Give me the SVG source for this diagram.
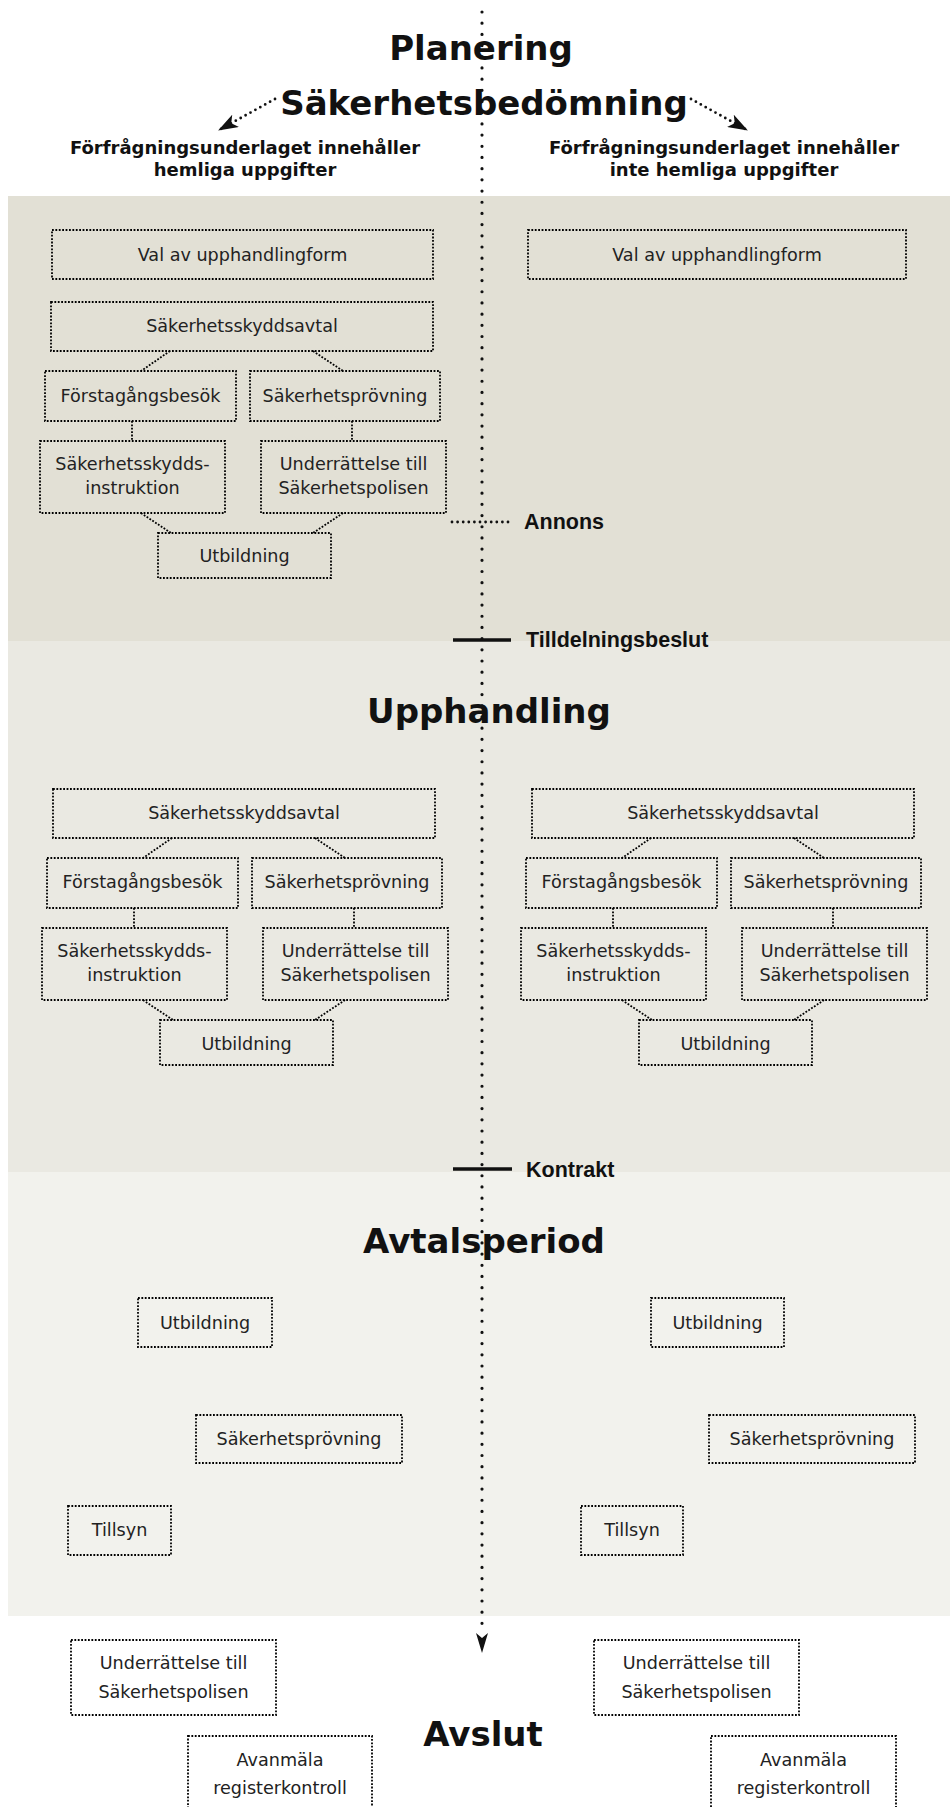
<svg xmlns="http://www.w3.org/2000/svg" width="950" height="1807" viewBox="0 0 950 1807">
<style>
.box{fill:none;stroke:#000;stroke-width:1.8;stroke-dasharray:1.8 1.6}
.con{fill:none;stroke:#000;stroke-width:1.8;stroke-dasharray:1.8 1.6}
.t{font-family:"DejaVu Sans",sans-serif;font-size:17.6px;fill:#222;text-anchor:middle}
.title{font-family:"DejaVu Sans",sans-serif;font-weight:bold;font-size:34px;fill:#111;text-anchor:middle}
.sub{font-family:"DejaVu Sans",sans-serif;font-weight:bold;font-size:18px;fill:#111;text-anchor:middle}
.lbl{font-family:"Liberation Sans",Arial,sans-serif;font-weight:bold;font-size:21.5px;fill:#111}
.dotsm{fill:none;stroke:#111;stroke-width:2.8;stroke-linecap:round;stroke-dasharray:0 5.6}
.mark{fill:none;stroke:#111;stroke-width:3.5}
</style>
<defs>
<marker id="ah" viewBox="0 0 20 14" refX="19" refY="7" markerWidth="20" markerHeight="14" markerUnits="userSpaceOnUse" orient="auto">
<path d="M0,0 L20,7 L0,14 L5,7 z" fill="#111"/>
</marker>
</defs>
<rect x="0" y="0" width="950" height="1807" fill="#fff"/>
<g id="panels">
<rect x="8" y="196" width="942" height="445" fill="#e2e0d5"/>
<rect x="8" y="641" width="942" height="531" fill="#eae9e2"/>
<rect x="8" y="1172" width="942" height="444" fill="#f2f2ed"/>
</g>
<g id="titles">
<text class="title" x="481" y="60">Planering</text>
<text class="title" x="484" y="115">Säkerhetsbedömning</text>
<text class="title" x="489" y="723">Upphandling</text>
<text class="title" x="484" y="1253">Avtalsperiod</text>
<text class="title" x="483" y="1746">Avslut</text>
</g>
<g id="subtitles">
<text class="sub" x="245" y="154">Förfrågningsunderlaget innehåller</text>
<text class="sub" x="245" y="176">hemliga uppgifter</text>
<text class="sub" x="724" y="154">Förfrågningsunderlaget innehåller</text>
<text class="sub" x="724" y="176">inte hemliga uppgifter</text>
</g>
<g id="milestones">
<path class="dotsm" d="M452,522 H513"/>
<text class="lbl" x="524" y="529">Annons</text>
<path class="mark" d="M453,640 H511"/>
<text class="lbl" x="526" y="647">Tilldelningsbeslut</text>
<path class="mark" d="M453,1169 H512"/>
<text class="lbl" x="526" y="1177">Kontrakt</text>
</g>
<g id="connectors">
<path class="dotsm" d="M275,99 L219,130" marker-end="url(#ah)"/>
<path class="dotsm" d="M691,99 L747,130" marker-end="url(#ah)"/>
<path class="con" d="M170,351 L141,371 M313,351 L343,371 M132,421 V441 M352,421 V441 M141,513 L171,533 M343,513 L313,533"/>
<path class="con" d="M172,838 L143,858 M315,838 L345,858 M134,908 V928 M354,908 V928 M143,1000 L173,1020 M345,1000 L315,1020"/>
<path class="con" d="M651,838 L622,858 M794,838 L824,858 M613,908 V928 M833,908 V928 M622,1000 L652,1020 M824,1000 L794,1020"/>
</g>
<g id="pl-l-val"><rect class="box" x="52" y="230" width="381" height="49"/><text class="t" x="242.5" y="261">Val av upphandlingform</text></g>
<g id="pl-l-avtal"><rect class="box" x="51" y="302" width="382" height="49"/><text class="t" x="242" y="332">Säkerhetsskyddsavtal</text></g>
<g id="pl-l-forst"><rect class="box" x="45" y="371" width="191" height="50"/><text class="t" x="140.5" y="402">Förstagångsbesök</text></g>
<g id="pl-l-prov"><rect class="box" x="250" y="371" width="190" height="50"/><text class="t" x="345" y="402">Säkerhetsprövning</text></g>
<g id="pl-l-instr"><rect class="box" x="40" y="441" width="185" height="72"/><text class="t" x="132.5" y="470">Säkerhetsskydds-</text><text class="t" x="132.5" y="494">instruktion</text></g>
<g id="pl-l-underr"><rect class="box" x="261" y="441" width="185" height="72"/><text class="t" x="353.5" y="470">Underrättelse till</text><text class="t" x="353.5" y="494">Säkerhetspolisen</text></g>
<g id="pl-l-utb"><rect class="box" x="158" y="533" width="173" height="45"/><text class="t" x="244.5" y="562">Utbildning</text></g>
<g id="pl-r-val"><rect class="box" x="528" y="230" width="378" height="49"/><text class="t" x="717" y="261">Val av upphandlingform</text></g>
<g id="up-l-avtal"><rect class="box" x="53" y="789" width="382" height="49"/><text class="t" x="244" y="819">Säkerhetsskyddsavtal</text></g>
<g id="up-l-forst"><rect class="box" x="47" y="858" width="191" height="50"/><text class="t" x="142.5" y="888">Förstagångsbesök</text></g>
<g id="up-l-prov"><rect class="box" x="252" y="858" width="190" height="50"/><text class="t" x="347" y="888">Säkerhetsprövning</text></g>
<g id="up-l-instr"><rect class="box" x="42" y="928" width="185" height="72"/><text class="t" x="134.5" y="957">Säkerhetsskydds-</text><text class="t" x="134.5" y="981">instruktion</text></g>
<g id="up-l-underr"><rect class="box" x="263" y="928" width="185" height="72"/><text class="t" x="355.5" y="957">Underrättelse till</text><text class="t" x="355.5" y="981">Säkerhetspolisen</text></g>
<g id="up-l-utb"><rect class="box" x="160" y="1020" width="173" height="45"/><text class="t" x="246.5" y="1050">Utbildning</text></g>
<g id="up-r-avtal"><rect class="box" x="532" y="789" width="382" height="49"/><text class="t" x="723" y="819">Säkerhetsskyddsavtal</text></g>
<g id="up-r-forst"><rect class="box" x="526" y="858" width="191" height="50"/><text class="t" x="621.5" y="888">Förstagångsbesök</text></g>
<g id="up-r-prov"><rect class="box" x="731" y="858" width="190" height="50"/><text class="t" x="826" y="888">Säkerhetsprövning</text></g>
<g id="up-r-instr"><rect class="box" x="521" y="928" width="185" height="72"/><text class="t" x="613.5" y="957">Säkerhetsskydds-</text><text class="t" x="613.5" y="981">instruktion</text></g>
<g id="up-r-underr"><rect class="box" x="742" y="928" width="185" height="72"/><text class="t" x="834.5" y="957">Underrättelse till</text><text class="t" x="834.5" y="981">Säkerhetspolisen</text></g>
<g id="up-r-utb"><rect class="box" x="639" y="1020" width="173" height="45"/><text class="t" x="725.5" y="1050">Utbildning</text></g>
<g id="av-l-utb"><rect class="box" x="138" y="1298" width="134" height="49"/><text class="t" x="205" y="1329">Utbildning</text></g>
<g id="av-l-prov"><rect class="box" x="196" y="1415" width="206" height="48"/><text class="t" x="299" y="1445">Säkerhetsprövning</text></g>
<g id="av-l-tillsyn"><rect class="box" x="68" y="1506" width="103" height="49"/><text class="t" x="119.5" y="1536">Tillsyn</text></g>
<g id="av-r-utb"><rect class="box" x="651" y="1298" width="133" height="49"/><text class="t" x="717.5" y="1329">Utbildning</text></g>
<g id="av-r-prov"><rect class="box" x="709" y="1415" width="206" height="48"/><text class="t" x="812" y="1445">Säkerhetsprövning</text></g>
<g id="av-r-tillsyn"><rect class="box" x="581" y="1506" width="102" height="49"/><text class="t" x="632" y="1536">Tillsyn</text></g>
<g id="as-l-underr"><rect class="box" x="71" y="1640" width="205" height="75"/><text class="t" x="173.5" y="1669">Underrättelse till</text><text class="t" x="173.5" y="1698">Säkerhetspolisen</text></g>
<g id="as-l-avanm"><rect class="box" x="188" y="1736" width="184" height="80"/><text class="t" x="280" y="1766">Avanmäla</text><text class="t" x="280" y="1794">registerkontroll</text></g>
<g id="as-r-underr"><rect class="box" x="594" y="1640" width="205" height="75"/><text class="t" x="696.5" y="1669">Underrättelse till</text><text class="t" x="696.5" y="1698">Säkerhetspolisen</text></g>
<g id="as-r-avanm"><rect class="box" x="711" y="1736" width="185" height="80"/><text class="t" x="803.5" y="1766">Avanmäla</text><text class="t" x="803.5" y="1794">registerkontroll</text></g>
<g id="timeline">
<path d="M482,12 V1623.5" fill="none" stroke="#111" stroke-width="3.2" stroke-linecap="round" stroke-dasharray="0 11.19"/>
<path d="M476,1633 L482,1638 L488,1633 L482,1653 z" fill="#111"/>
</g>
</svg>
